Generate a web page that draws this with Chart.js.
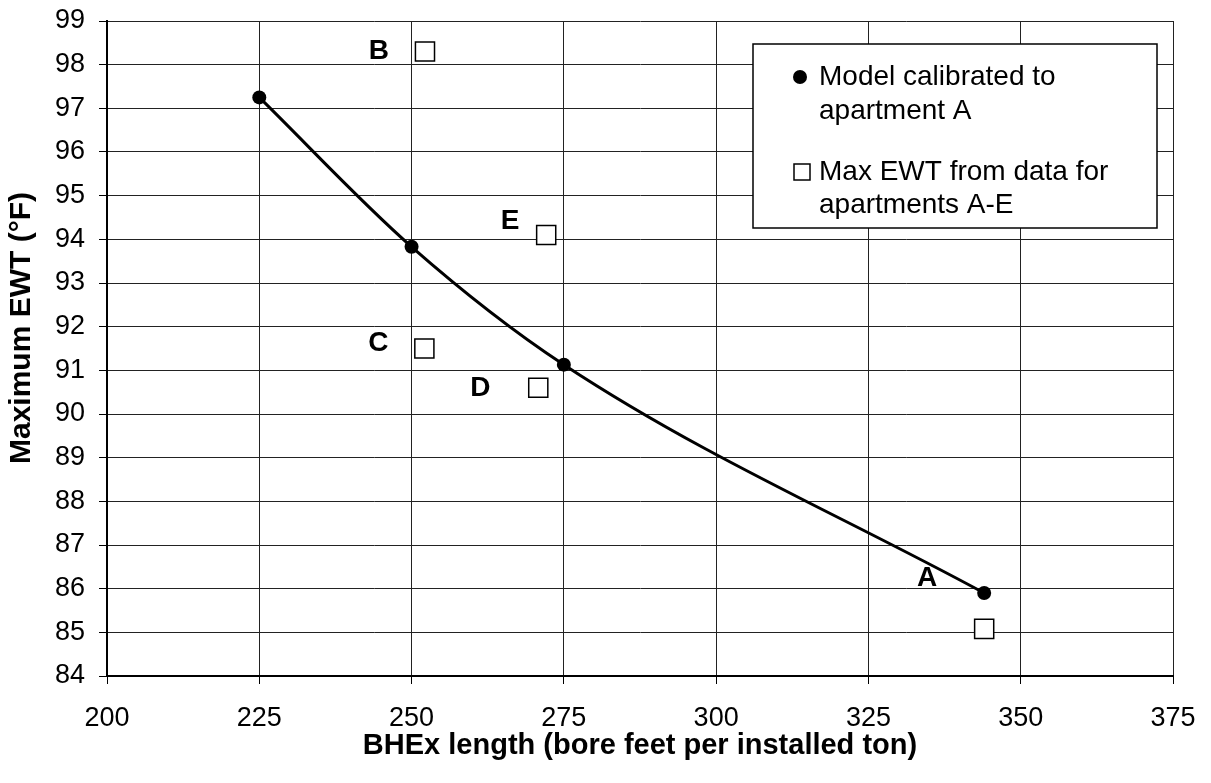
<!DOCTYPE html>
<html>
<head>
<meta charset="utf-8">
<script src="https://cdn.jsdelivr.net/npm/chart.js@4"></script>
<style>
  html, body { margin: 0; padding: 0; background: #fff; }
  #wrap { width: 1211px; height: 783px; }
</style>
</head>
<body>
<div id="wrap"><canvas id="chart"></canvas></div>
<script>
// model curve
const modelX = [225, 250, 275, 344];
const modelY = [97.25, 93.83, 91.13, 85.9];

// measured max EWT per apartment
const aptNames = ["A", "B", "C", "D", "E"];
const aptX = [344, 252.2, 252.1, 270.8, 272.1];
const aptY = [85.08, 98.3, 91.5, 90.6, 94.1];
// label offset from its square, in px
const labelDx = [-57, -46, -46, -58, -36];
const labelDy = [-51, 0, -5, 0, -14];

const legendLines = [
  ["Model calibrated to", "apartment A"],
  ["Max EWT from data for", "apartments A-E"]
];
const xTitle = "BHEx length (bore feet per installed ton)";
const yTitle = "Maximum EWT (°F)";

const FONT = "'Liberation Sans', Arial, sans-serif";

const aptLabels = {
  id: "aptLabels",
  afterDatasetsDraw(chart) {
    const ctx = chart.ctx;
    const xs = chart.scales.x, ys = chart.scales.y;
    ctx.save();
    ctx.font = "bold 28px " + FONT;
    ctx.fillStyle = "#000";
    ctx.textAlign = "center";
    ctx.textBaseline = "middle";
    aptNames.forEach((n, i) => {
      ctx.fillText(n, xs.getPixelForValue(aptX[i]) + labelDx[i], ys.getPixelForValue(aptY[i]) + labelDy[i]);
    });
    ctx.restore();
  }
};

const axisTitles = {
  id: "axisTitles",
  afterDraw(chart) {
    const ctx = chart.ctx;
    const a = chart.chartArea;
    ctx.save();
    ctx.fillStyle = "#000";
    ctx.textAlign = "center";
    ctx.textBaseline = "middle";
    ctx.font = "bold 29px " + FONT;
    ctx.fillText(xTitle, (a.left + a.right) / 2, 746);
    ctx.translate(22, 328);
    ctx.rotate(-Math.PI / 2);
    ctx.font = "bold 30px " + FONT;
    ctx.fillText(yTitle, 0, 0);
    ctx.restore();
  }
};

const boxLegend = {
  id: "boxLegend",
  afterDraw(chart) {
    const ctx = chart.ctx;
    const a = chart.chartArea;
    const right = a.right - 16, top = a.top + 23;
    const left = right - 404, h = 184;
    ctx.save();
    ctx.fillStyle = "#fff";
    ctx.fillRect(left, top, right - left, h);
    ctx.strokeStyle = "#000";
    ctx.lineWidth = 1.5;
    ctx.strokeRect(left, top, right - left, h);

    ctx.fillStyle = "#000";
    ctx.beginPath();
    ctx.arc(left + 47, top + 33, 7, 0, Math.PI * 2);
    ctx.fill();
    ctx.fillStyle = "#fff";
    ctx.fillRect(left + 41, top + 120, 16, 16);
    ctx.strokeRect(left + 41, top + 120, 16, 16);

    ctx.fillStyle = "#000";
    ctx.font = "28px " + FONT;
    ctx.textBaseline = "middle";
    ctx.textAlign = "left";
    const tx = left + 66;
    ctx.fillText(legendLines[0][0], tx, top + 33);
    ctx.fillText(legendLines[0][1], tx, top + 67);
    ctx.fillText(legendLines[1][0], tx, top + 128);
    ctx.fillText(legendLines[1][1], tx, top + 161);
    ctx.restore();
  }
};

function noPad(s) {
  s.paddingTop = 0; s.paddingBottom = 0;
  s.paddingLeft = 0; s.paddingRight = 0;
}

new Chart(document.getElementById("chart"), {
  type: "scatter",
  data: {
    datasets: [
      {
        label: "Model calibrated to apartment A",
        data: modelX.map((x, i) => ({ x: x, y: modelY[i] })),
        showLine: true,
        borderColor: "#000",
        borderWidth: 3,
        cubicInterpolationMode: "monotone",
        pointRadius: 7,
        pointHoverRadius: 7,
        pointBackgroundColor: "#000",
        pointBorderColor: "#000",
        pointBorderWidth: 0
      },
      {
        label: "Max EWT from data for apartments A-E",
        data: aptX.map((x, i) => ({ x: x, y: aptY[i] })),
        showLine: false,
        pointStyle: "rect",
        pointRadius: 13.5,
        pointHoverRadius: 13.5,
        pointBackgroundColor: "#fff",
        pointBorderColor: "#000",
        pointBorderWidth: 1.5
      }
    ]
  },
  options: {
    responsive: true,
    maintainAspectRatio: false,
    animation: false,
    events: [],
    layout: { padding: { top: 21, right: 38, left: 0, bottom: 0 } },
    plugins: { legend: { display: false }, tooltip: { enabled: false } },
    scales: {
      x: {
        type: "linear",
        min: 200, max: 375,
        afterFit(s) { s.height = 107; noPad(s); },
        ticks: { stepSize: 25, color: "#000", font: { family: FONT, size: 27 }, padding: 18, maxRotation: 0 },
        grid: { color: "#222", lineWidth: 1, tickLength: 8, tickColor: "#000" },
        border: { color: "#000", width: 2 }
      },
      y: {
        min: 84, max: 99,
        afterFit(s) { s.width = 107; noPad(s); },
        ticks: { stepSize: 1, color: "#000", font: { family: FONT, size: 27 }, padding: 14 },
        grid: { color: "#222", lineWidth: 1, tickLength: 8, tickColor: "#000" },
        border: { color: "#000", width: 2 }
      }
    }
  },
  plugins: [aptLabels, axisTitles, boxLegend]
});
</script>
</body>
</html>
